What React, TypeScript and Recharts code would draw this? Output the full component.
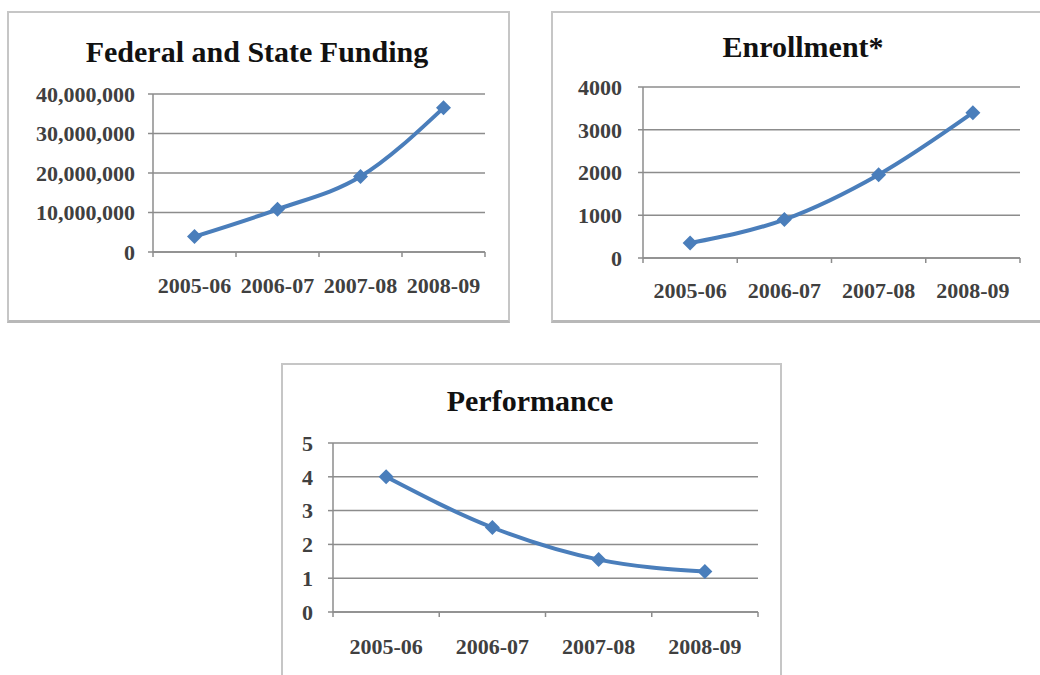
import React from "react";
import { LineChart, Line, XAxis, YAxis, CartesianGrid } from "recharts";

const categories = ["2005-06", "2006-07", "2007-08", "2008-09"];
const funding = [3900000, 10800000, 19100000, 36500000];
const enrollment = [350, 900, 1950, 3400];
const performance = [4, 2.5, 1.55, 1.2];
const fundingTicks = [0, 10000000, 20000000, 30000000, 40000000];
const enrollmentTicks = [0, 1000, 2000, 3000, 4000];
const performanceTicks = [0, 1, 2, 3, 4, 5];

const LINE = "#4a7ebb";
const AXIS = "#8c8c8c";
const LABEL = "#404040";
const FONT = "'Liberation Serif', serif";

function Diamond(props: any) {
  const { cx, cy } = props;
  if (cx == null || cy == null) return null;
  const r = 7.5;
  return <path d={`M${cx},${cy - r}L${cx + r},${cy}L${cx},${cy + r}L${cx - r},${cy}Z`} fill={LINE} />;
}

function XTick(props: any) {
  const { x, y, payload, index, band, offset } = props;
  const axisY = y - offset;
  return (
    <g>
      {index === 0 && <line x1={x - band / 2} x2={x - band / 2} y1={axisY} y2={axisY + 5} stroke={AXIS} strokeWidth={1.5} />}
      <line x1={x + band / 2} x2={x + band / 2} y1={axisY} y2={axisY + 5} stroke={AXIS} strokeWidth={1.5} />
      <text x={x} y={y} dy="0.71em" textAnchor="middle" fill={LABEL} fontSize={22} fontWeight="bold" fontFamily={FONT}>
        {payload.value}
      </text>
    </g>
  );
}

type Box = { left: number; top: number; width: number; height: number };
type Plot = { left: number; top: number; right: number; bottom: number };

function MiniChart({ title, values, ticks, box, plot, titleX, titleBase, yGap, xGap, fmt }: {
  title: string; values: number[]; ticks: number[]; box: Box; plot: Plot;
  titleX: number; titleBase: number; yGap: number; xGap: number; fmt?: (v: number) => string;
}) {
  const data = categories.map((c, i) => ({ cat: c, v: values[i] }));
  const band = (plot.right - plot.left) / categories.length;
  return (
    <>
      <div style={{
        position: "absolute", left: box.left, top: box.top, width: box.width, height: box.height,
        boxSizing: "border-box", border: "2px solid #c6c6c6", borderBottom: "3px solid #b8b8b8", background: "#fff",
      }} />
      <div style={{
        position: "absolute", left: titleX - 300, top: titleBase - 25, width: 600, textAlign: "center",
        fontFamily: FONT, fontWeight: "bold", fontSize: 30, lineHeight: "30px", color: "#111",
      }}>{title}</div>
      <div style={{ position: "absolute", left: box.left, top: box.top }}>
        <LineChart
          width={box.width}
          height={box.height}
          data={data}
          margin={{
            top: plot.top - box.top,
            right: box.left + box.width - plot.right,
            bottom: 0,
            left: 0,
          }}
        >
          <CartesianGrid vertical={false} stroke={AXIS} strokeWidth={1.5} />
          <XAxis
            dataKey="cat"
            scale="band"
            height={box.top + box.height - plot.bottom}
            axisLine={{ stroke: AXIS, strokeWidth: 1.5 }}
            tickLine={false}
            tickSize={0}
            tickMargin={xGap}
            interval={0}
            tick={<XTick band={band} offset={xGap} />}
          />
          <YAxis
            width={plot.left - box.left}
            domain={[ticks[0], ticks[ticks.length - 1]]}
            ticks={ticks}
            interval={0}
            axisLine={{ stroke: AXIS, strokeWidth: 1.5 }}
            tickLine={{ stroke: AXIS, strokeWidth: 1.5 }}
            tickSize={5}
            tickMargin={yGap}
            tick={{ fill: LABEL, fontSize: 22, fontWeight: "bold", fontFamily: FONT }}
            tickFormatter={fmt}
          />
          <Line
            type="monotone"
            dataKey="v"
            stroke={LINE}
            strokeWidth={4}
            dot={<Diamond />}
            activeDot={false}
            isAnimationActive={false}
          />
        </LineChart>
      </div>
    </>
  );
}

export default function App() {
  return (
    <div style={{ position: "absolute", left: 0, top: 0, width: 1040, height: 675, background: "#fff", overflow: "hidden" }}>
      <MiniChart
        title="Federal and State Funding"
        values={funding}
        ticks={fundingTicks}
        box={{ left: 7, top: 11, width: 503, height: 312 }}
        plot={{ left: 153, top: 94, right: 485, bottom: 252 }}
        titleX={257}
        titleBase={62}
        yGap={13}
        xGap={25}
        fmt={(v) => v.toLocaleString("en-US")}
      />
      <MiniChart
        title="Enrollment*"
        values={enrollment}
        ticks={enrollmentTicks}
        box={{ left: 551, top: 11, width: 495, height: 312 }}
        plot={{ left: 643, top: 87, right: 1020, bottom: 258 }}
        titleX={803}
        titleBase={57}
        yGap={16}
        xGap={24}
      />
      <MiniChart
        title="Performance"
        values={performance}
        ticks={performanceTicks}
        box={{ left: 281, top: 363, width: 501, height: 330 }}
        plot={{ left: 333, top: 443, right: 758, bottom: 612 }}
        titleX={530}
        titleBase={411}
        yGap={15}
        xGap={26}
      />
    </div>
  );
}
